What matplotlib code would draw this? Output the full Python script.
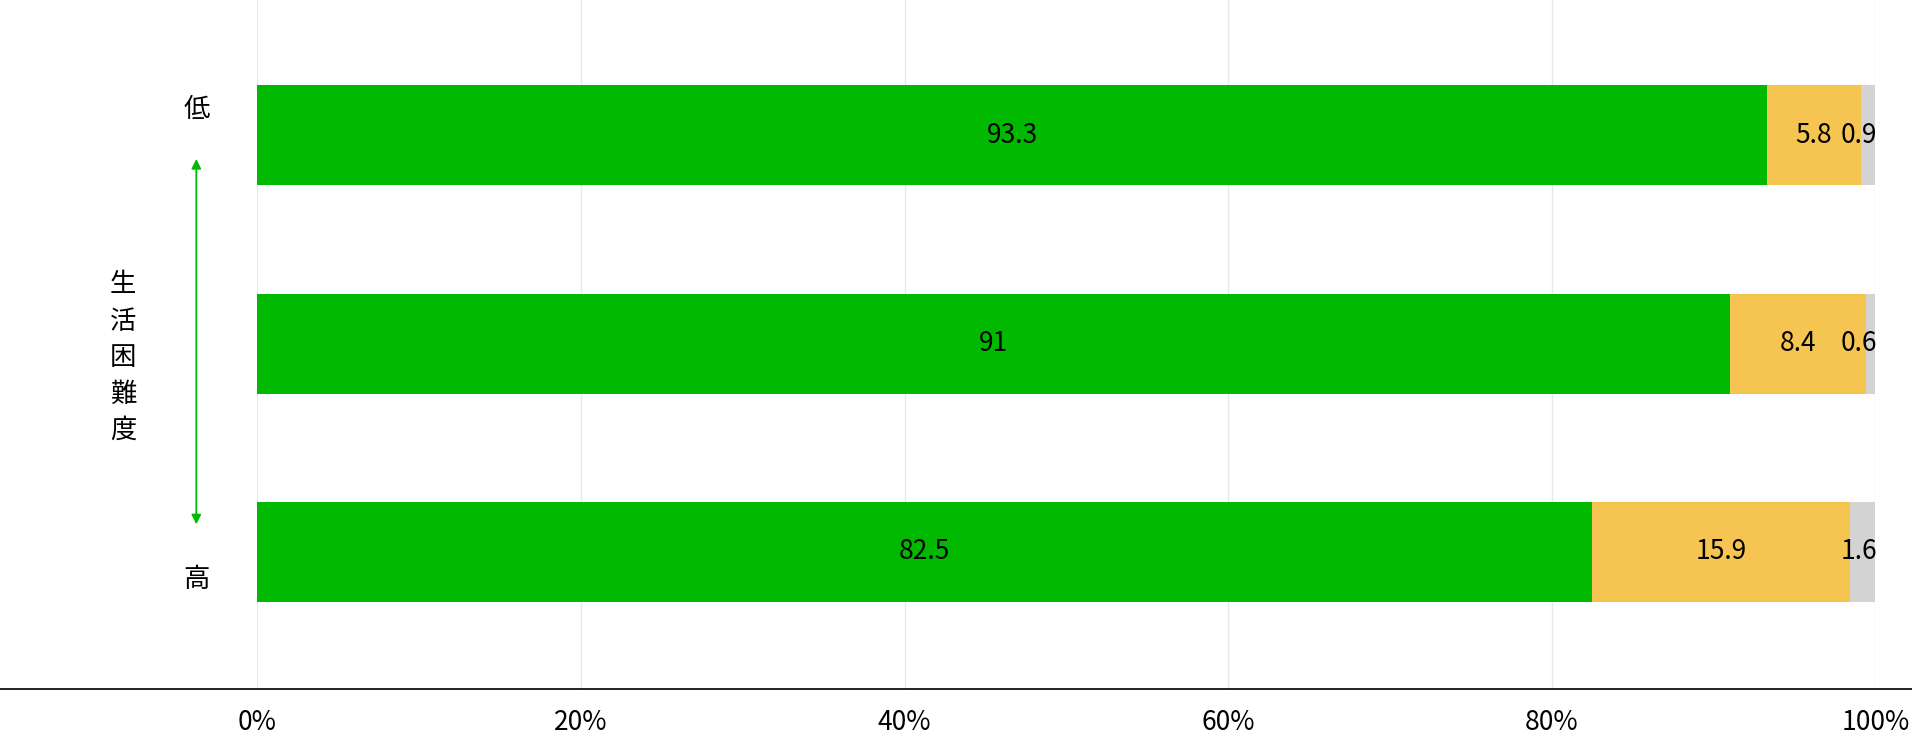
import matplotlib
matplotlib.use("Agg")
import matplotlib.pyplot as plt

plt.rcParams['font.family'] = ['Noto Sans CJK JP', 'DejaVu Sans']

rows = ['低', '中', '高']
green = [93.3, 91, 82.5]
yellow = [5.8, 8.4, 15.9]
gray = [0.9, 0.6, 1.6]
ticks = [0, 20, 40, 60, 80, 100]
tick_labels = ['0%', '20%', '40%', '60%', '80%', '100%']

W, H = 1568, 613
fig = plt.figure(figsize=(19.12, 7.48), dpi=100)
ax = fig.add_axes([211 / W, 1 - 565 / H, (1538 - 211) / W, 565 / H])

y = list(range(len(rows)))
ax.barh(y, green, height=0.48, color='#00B900')
ax.barh(y, yellow, left=green, height=0.48, color='#F5C451')
left2 = [g + v for g, v in zip(green, yellow)]
ax.barh(y, gray, left=left2, height=0.48, color='#D3D3D3')

fs = 19
for i in y:
    ax.text(green[i] / 2, i, f'{green[i]:g}', ha='center', va='center', fontsize=fs)
    # small segments: keep labels apart
    ax.text(100.1, i, f'{gray[i]:g}', ha='right', va='center', fontsize=fs)
    xc = min(green[i] + yellow[i] / 2, 97.0)
    ax.text(xc, i, f'{yellow[i]:g}', ha='center', va='center', fontsize=fs)

ax.set_xlim(0, 100)
ax.set_ylim(2.66, -0.65)
ax.set_xticks(ticks)
ax.set_xticklabels(tick_labels, fontsize=fs)
ax.set_yticks([])
ax.xaxis.grid(True, color='#e8e8e8', linewidth=1)
ax.set_axisbelow(True)
for s in ax.spines.values():
    s.set_visible(False)
ax.tick_params(axis='x', length=0, pad=14)

# baseline across whole width
fig.add_artist(plt.Line2D([0, 1], [1 - 565 / H] * 2, color='black', linewidth=1.2,
                          transform=fig.transFigure))

# left annotation
fig.text(161 / W, 1 - 90 / H, '低', ha='center', va='center', fontsize=fs)
fig.text(161 / W, 1 - 475 / H, '高', ha='center', va='center', fontsize=fs)
fig.text(101 / W, 1 - 293 / H, '生\n活\n困\n難\n度', ha='center', va='center',
         fontsize=fs, linespacing=1.45)
fig.add_artist(matplotlib.patches.FancyArrowPatch(
    (161 / W, 1 - 128 / H), (161 / W, 1 - 432 / H), transform=fig.transFigure,
    arrowstyle='<|-|>', mutation_scale=14, color='#00B900', linewidth=1.3))

fig.savefig('out.png', dpi=100)
